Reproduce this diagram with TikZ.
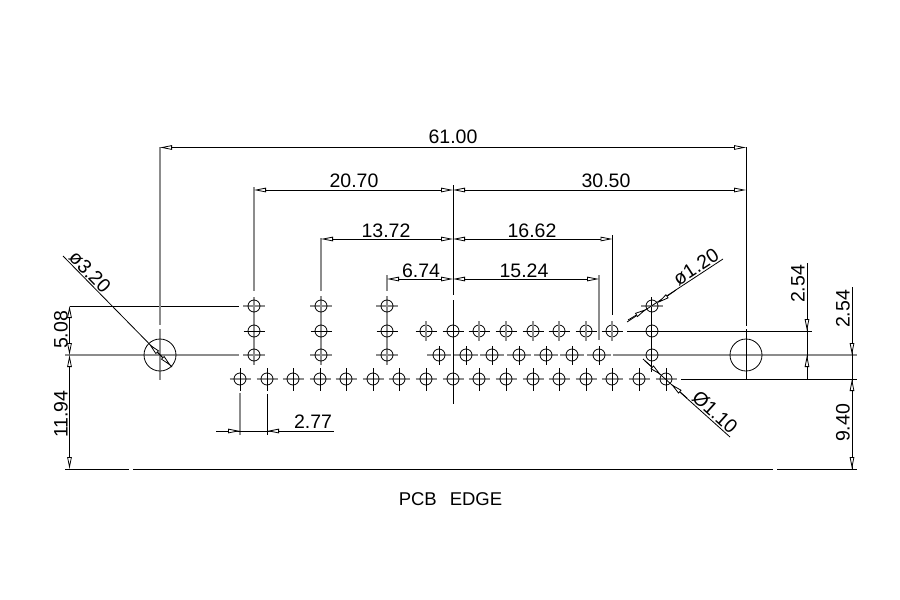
\documentclass[tikz,border=0pt]{standalone}
\usepackage{fontspec}
\setmainfont{Liberation Sans}
\usetikzlibrary{arrows.meta}
\begin{document}
\begin{tikzpicture}[
  x=1pt, y=-1pt,
  tipend/.tip={Triangle[open, fill=white, length=12pt, width=4.5pt]},
  blk/.style={line width=0.8pt, black},
  ctr/.style={line width=1.3pt, black!45},
  hole/.style={line width=0.8pt, black},
  dimtext/.style={font=\fontsize{19.5}{20}\selectfont, inner sep=0pt},
  dim/.style={blk, tipend-tipend},
  tipin/.style={blk, -tipend}
]
\useasboundingbox (0,0) rectangle (900,600);

% centre lines and extension lines
\draw[ctr] (65,355) -- (239,355);
\draw[ctr] (613,355) -- (857,355);
\draw[blk] (70,306) -- (239,306);
\draw[blk] (627,331) -- (812,331);
\draw[blk] (681,379) -- (857,379);
\draw[ctr] (160,147) -- (160,325);
\draw[ctr] (160,329) -- (160,380);
\draw[blk] (746,147) -- (746,326);
\draw[blk] (746,329) -- (746,380);
\draw[ctr] (254,187) -- (254,291);
\draw[ctr] (254,297) -- (254,365);
\draw[ctr] (321,238) -- (321,291);
\draw[ctr] (321,296) -- (321,365);
\draw[ctr] (387,275) -- (387,291);
\draw[ctr] (387,296) -- (387,365);
\draw[blk] (453,185) -- (453,295);
\draw[blk] (453,300) -- (453,404);
\draw[blk] (612.5,235) -- (612.5,315);
\draw[ctr] (599,275) -- (599,340);
\draw[blk] (651.5,297) -- (651.5,372);
\draw[ctr] (240,393) -- (240,435);
\draw[blk] (267,394) -- (267,435);

% holes
\foreach \x in {254,321,387,652} {
  \draw[ctr] (\x-11,306) -- (\x+11,306);
  \draw[hole] (\x,306) circle (6);
}
\foreach \x in {254,321,387,426,453,479,506,533,559,586,612,652} {
  \draw[blk] (\x-10.5,331) -- (\x+10.5,331);
  \draw[hole] (\x,331) circle (6);
}
\foreach \x in {426,479,506,533,559,586,612} {
  \draw[ctr] (\x,321) -- (\x,341);
}
\foreach \x in {254,321,387} {
  \draw[ctr] (\x-11,355) -- (\x+11,355);
  \draw[hole] (\x,355) circle (6);
}
\foreach \x in {439,466,492,519,546,572,599} {
  \draw[ctr] (\x-12,355) -- (\x+12,355);
  \draw[blk] (\x,346) -- (\x,365);
  \draw[hole] (\x,355) circle (6);
}
\draw[hole] (652,355) circle (6);
\foreach \x in {240,267,293,320,346,373,399,426,453,479,506,533,559,586,612,639,666} {
  \draw[ctr] (\x-10.5,379) -- (\x+10.5,379);
  \draw[blk] (\x,368) -- (\x,391);
  \draw[hole] (\x,379) circle (6);
}
\draw[hole] (160,355) circle (16);
\draw[hole] (746,355) circle (16);

% pcb edge
\draw[blk] (65,469) -- (129,469);
\draw[blk] (133,469) -- (773,469);
\draw[blk] (777,469) -- (857,469);
\node[dimtext, font=\fontsize{18.5}{20}\selectfont] (edge) at (450.5,499) {PCB\hspace{13pt}EDGE};

% horizontal dimensions
\draw[dim] (160,147.5) -- node[dimtext, above=3pt] (dimA) {61.00} (746,147.5);
\draw[dim] (254,190) -- (453,190);
\draw[dim] (453,190) -- (746,190);
\draw[dim] (321,239) -- (453,239);
\draw[dim] (453,239) -- (612.5,239);
\draw[dim] (387,279) -- (453,279);
\draw[dim] (453,279) -- (599,279);
\draw[blk] (216,431) -- (334,431);
\draw[tipin] (216,431) -- (240,431);
\draw[tipin] (291,431) -- (267,431);
\node[dimtext] (dimB) at (354,181) {20.70};
\node[dimtext] (dimC) at (606,181) {30.50};
\node[dimtext] (dimD) at (386,231) {13.72};
\node[dimtext] (dimE) at (532,231) {16.62};
\node[dimtext] (dimF) at (421,271) {6.74};
\node[dimtext] (dimG) at (524,271) {15.24};
\node[dimtext] (dimH) at (313,422) {2.77};

% vertical dimensions
\draw[dim] (69.5,306) -- (69.5,355);
\draw[dim] (69.5,355) -- (69.5,469);
\draw[blk] (807,263) -- (807,379);
\draw[tipin] (807,305) -- (807,331);
\draw[tipin] (807,379) -- (807,355);
\draw[blk] (852,287) -- (852,469);
\draw[tipin] (852,325) -- (852,355);
\draw[dim] (852,379) -- (852,469);
\node[dimtext, rotate=90] (dimI) at (61,330) {5.08};
\node[dimtext, rotate=90] (dimJ) at (61,414) {11.94};
\node[dimtext, rotate=90] (dimK) at (798,284) {2.54};
\node[dimtext, rotate=90] (dimL) at (843,309) {2.54};
\node[dimtext, rotate=90] (dimM) at (843,423) {9.40};

% diameters
\draw[blk] (63,256) -- (172,367);
\draw[tipin] (160,355) -- (149,344);
\draw[tipin] (160,355) -- (171,366);
\node[dimtext, rotate=-46] (diaA) at (90,272) {ø3.20};
\draw[blk] (627,322) -- (723,259);
\draw[tipin] (628,320) -- (646.5,309);
\draw[tipin] (676,290) -- (657.5,303);
\node[dimtext, rotate=33] (diaB) at (696,267) {ø1.20};
\draw[blk] (643,359) -- (730,437);
\draw[tipin] (645,361) -- (661,375);
\draw[tipin] (687,398) -- (671,384);
\node[dimtext, rotate=-42] (diaC) at (715,412) {Ø1.10};
\end{tikzpicture}
\end{document}
